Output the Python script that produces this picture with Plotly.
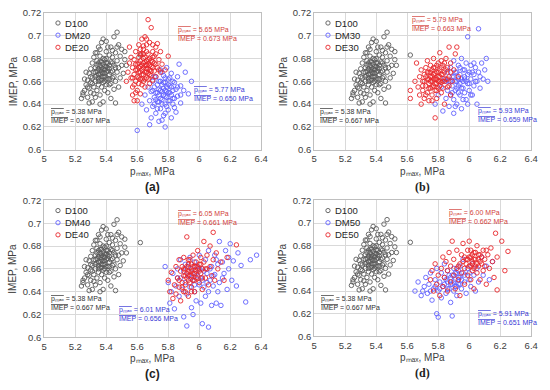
import plotly.graph_objects as go

W, H = 550, 390

# ---------------- data (p_max [MPa], IMEP [MPa]) ----------------
D100 = [(5.24,0.645),(5.25,0.650),(5.25,0.648),(5.26,0.652),(5.27,0.657),(5.26,0.662),(5.28,0.655),(5.28,0.661),
        (5.29,0.641),(5.29,0.667),(5.30,0.650),(5.30,0.659),(5.30,0.671),(5.31,0.642),(5.31,0.663),(5.31,0.676),
        (5.32,0.655),(5.32,0.668),(5.32,0.681),(5.33,0.646),(5.33,0.660),(5.33,0.672),(5.33,0.685),(5.34,0.652),
        (5.34,0.665),(5.34,0.669),(5.34,0.678),(5.35,0.657),(5.35,0.663),(5.35,0.671),(5.35,0.690),(5.36,0.648),
        (5.36,0.666),(5.36,0.674),(5.36,0.682),(5.37,0.655),(5.37,0.661),(5.37,0.668),(5.37,0.672),(5.37,0.694),
        (5.38,0.642),(5.38,0.659),(5.38,0.667),(5.38,0.675),(5.38,0.697),(5.39,0.652),(5.39,0.664),(5.39,0.670),
        (5.39,0.679),(5.40,0.657),(5.40,0.668),(5.40,0.673),(5.40,0.686),(5.40,0.695),(5.41,0.650),(5.41,0.662),
        (5.41,0.676),(5.42,0.666),(5.42,0.671),(5.42,0.683),(5.43,0.645),(5.43,0.658),(5.43,0.677),(5.43,0.690),
        (5.44,0.663),(5.44,0.669),(5.44,0.681),(5.45,0.653),(5.45,0.674),(5.45,0.699),(5.46,0.641),(5.46,0.660),
        (5.46,0.685),(5.47,0.668),(5.47,0.678),(5.47,0.703),(5.48,0.655),(5.48,0.672),(5.48,0.692),(5.49,0.663),
        (5.49,0.682),(5.50,0.674),(5.50,0.688),(5.51,0.667),(5.52,0.679),(5.52,0.686),(5.53,0.674),(5.62,0.683),
        (5.36,0.640),(5.27,0.668),(5.36,0.670),(5.38,0.664),(5.39,0.673),(5.37,0.677),(5.40,0.662),(5.35,0.666),
        (5.41,0.669),(5.38,0.671),(5.36,0.661),(5.42,0.674),
        (5.33,0.664),(5.34,0.674),(5.35,0.660),(5.36,0.677),(5.37,0.664),(5.38,0.680),(5.39,0.660),(5.39,0.667),
        (5.40,0.676),(5.41,0.672),(5.42,0.662),(5.43,0.668),(5.44,0.676),(5.37,0.670),(5.35,0.676),(5.33,0.668),
        (5.31,0.658),(5.29,0.654),(5.30,0.664),(5.32,0.649),(5.34,0.685),(5.36,0.688),(5.41,0.690),(5.44,0.687),
        (5.46,0.672),(5.47,0.690),(5.45,0.664),(5.40,0.680),(5.28,0.646),(5.42,0.657)]

DM20 = [(5.60,0.617),(5.63,0.640),(5.65,0.648),(5.66,0.635),(5.67,0.655),(5.68,0.643),(5.69,0.651),(5.69,0.628),
        (5.70,0.660),(5.70,0.638),(5.71,0.646),(5.71,0.655),(5.72,0.632),(5.72,0.650),(5.72,0.664),(5.73,0.642),
        (5.73,0.657),(5.74,0.625),(5.74,0.648),(5.74,0.653),(5.75,0.636),(5.75,0.660),(5.75,0.670),(5.76,0.644),
        (5.76,0.651),(5.76,0.657),(5.77,0.630),(5.77,0.648),(5.77,0.654),(5.77,0.665),(5.78,0.640),(5.78,0.652),
        (5.78,0.659),(5.78,0.620),(5.79,0.646),(5.79,0.655),(5.79,0.672),(5.80,0.635),(5.80,0.650),(5.80,0.662),
        (5.81,0.643),(5.81,0.656),(5.82,0.628),(5.82,0.648),(5.82,0.667),(5.83,0.652),(5.83,0.640),(5.84,0.659),
        (5.84,0.645),(5.85,0.633),(5.85,0.653),(5.86,0.664),(5.86,0.647),(5.87,0.675),(5.88,0.641),(5.88,0.656),
        (5.90,0.652),(5.91,0.668),(5.93,0.649),(5.95,0.660),(5.68,0.622),(5.71,0.664),(5.76,0.668),(5.79,0.638),
        (5.74,0.642),
        (5.73,0.650),(5.74,0.660),(5.75,0.645),(5.76,0.640),(5.77,0.659),(5.78,0.647),(5.78,0.663),(5.79,0.651),
        (5.80,0.657),(5.80,0.643),(5.81,0.650),(5.81,0.663),(5.82,0.655),(5.83,0.645),(5.83,0.660),(5.75,0.652),
        (5.72,0.644),(5.70,0.652),(5.84,0.637),(5.86,0.655),(5.78,0.632),(5.73,0.636),(5.88,0.648),(5.76,0.626),
        (5.71,0.640)]

DE20 = [(5.53,0.660),(5.54,0.668),(5.55,0.676),(5.55,0.690),(5.56,0.663),(5.56,0.681),(5.57,0.655),(5.57,0.672),
        (5.57,0.648),(5.58,0.666),(5.58,0.679),(5.58,0.643),(5.59,0.660),(5.59,0.670),(5.59,0.686),(5.60,0.652),
        (5.60,0.664),(5.60,0.675),(5.60,0.643),(5.61,0.668),(5.61,0.681),(5.61,0.658),(5.61,0.692),(5.62,0.662),
        (5.62,0.673),(5.62,0.678),(5.62,0.649),(5.63,0.666),(5.63,0.670),(5.63,0.684),(5.63,0.697),(5.64,0.660),
        (5.64,0.672),(5.64,0.676),(5.64,0.688),(5.65,0.655),(5.65,0.668),(5.65,0.674),(5.65,0.681),(5.65,0.699),
        (5.66,0.663),(5.66,0.671),(5.66,0.678),(5.66,0.692),(5.67,0.667),(5.67,0.675),(5.67,0.684),(5.67,0.714),
        (5.68,0.658),(5.68,0.670),(5.68,0.680),(5.68,0.694),(5.69,0.665),(5.69,0.673),(5.69,0.707),(5.70,0.661),
        (5.70,0.677),(5.70,0.686),(5.71,0.669),(5.71,0.682),(5.72,0.664),(5.72,0.675),(5.72,0.690),(5.73,0.672),
        (5.73,0.693),(5.74,0.679),(5.75,0.668),(5.75,0.686),(5.76,0.675),(5.78,0.670),(5.80,0.682),(5.63,0.657),
        (5.64,0.680),(5.62,0.684),(5.66,0.686),(5.61,0.676),(5.67,0.662),(5.59,0.675),
        (5.60,0.670),(5.61,0.672),(5.62,0.668),(5.63,0.674),(5.63,0.662),(5.64,0.666),(5.64,0.684),(5.65,0.677),
        (5.65,0.662),(5.66,0.668),(5.66,0.674),(5.67,0.671),(5.67,0.679),(5.68,0.674),(5.68,0.666),(5.69,0.678),
        (5.69,0.669),(5.70,0.672),(5.70,0.681),(5.71,0.676),(5.61,0.663),(5.62,0.688),(5.64,0.691),(5.66,0.697),
        (5.70,0.692),(5.58,0.657),(5.59,0.650),(5.72,0.684),(5.74,0.670),(5.57,0.663)]

DM30 = [(5.78,0.640),(5.80,0.648),(5.82,0.655),(5.83,0.634),(5.84,0.662),(5.85,0.645),(5.86,0.668),(5.86,0.652),
        (5.87,0.638),(5.87,0.660),(5.88,0.672),(5.88,0.648),(5.89,0.656),(5.89,0.664),(5.90,0.632),(5.90,0.644),
        (5.90,0.678),(5.91,0.660),(5.91,0.652),(5.92,0.668),(5.92,0.640),(5.93,0.656),(5.93,0.674),(5.93,0.662),
        (5.94,0.648),(5.94,0.666),(5.95,0.654),(5.95,0.680),(5.95,0.636),(5.96,0.660),(5.96,0.670),(5.97,0.650),
        (5.97,0.664),(5.98,0.676),(5.98,0.644),(5.99,0.658),(5.99,0.699),(6.00,0.668),(6.00,0.652),(6.01,0.662),
        (6.01,0.674),(6.02,0.648),(6.03,0.666),(6.03,0.656),(6.04,0.672),(6.05,0.660),(6.05,0.640),(6.06,0.706),
        (6.06,0.668),(6.07,0.654),(6.08,0.676),(6.09,0.662),(6.10,0.670),(6.11,0.680),(6.12,0.660),(5.92,0.660),
        (5.94,0.658),(5.89,0.650),(5.97,0.662),(5.85,0.660),
        (5.90,0.664),(5.91,0.668),(5.92,0.654),(5.93,0.650),(5.94,0.672),(5.95,0.662),(5.96,0.654),(5.97,0.670),
        (5.98,0.660),(5.99,0.666),(6.00,0.658),(6.01,0.648),(6.02,0.668),(6.03,0.676),(6.04,0.660),(5.88,0.660),
        (5.96,0.644),(5.99,0.640),(6.07,0.664),(5.91,0.638)]

DE30 = [(5.62,0.645),(5.62,0.652),(5.65,0.660),(5.66,0.676),(5.67,0.655),(5.68,0.648),(5.68,0.664),(5.69,0.640),
        (5.69,0.670),(5.70,0.652),(5.70,0.660),(5.71,0.666),(5.71,0.645),(5.72,0.672),(5.72,0.656),(5.73,0.662),
        (5.73,0.650),(5.73,0.678),(5.74,0.658),(5.74,0.668),(5.74,0.643),(5.75,0.664),(5.75,0.654),(5.75,0.674),
        (5.76,0.660),(5.76,0.648),(5.76,0.670),(5.77,0.666),(5.77,0.656),(5.77,0.680),(5.78,0.628),(5.78,0.662),
        (5.78,0.672),(5.78,0.652),(5.79,0.668),(5.79,0.658),(5.79,0.645),(5.80,0.664),(5.80,0.676),(5.80,0.654),
        (5.81,0.660),(5.81,0.670),(5.81,0.685),(5.82,0.666),(5.82,0.650),(5.83,0.674),(5.83,0.660),(5.84,0.668),
        (5.84,0.640),(5.85,0.662),(5.85,0.680),(5.86,0.655),(5.86,0.672),(5.87,0.690),(5.87,0.664),(5.88,0.648),
        (5.88,0.676),(5.89,0.660),(5.90,0.670),(5.91,0.684),(5.92,0.690),(5.93,0.664),(5.76,0.664),(5.79,0.662),
        (5.74,0.662),(5.82,0.659),
        (5.72,0.664),(5.73,0.668),(5.74,0.654),(5.75,0.660),(5.75,0.668),(5.76,0.655),(5.77,0.662),(5.77,0.672),
        (5.78,0.658),(5.78,0.667),(5.79,0.652),(5.79,0.674),(5.80,0.660),(5.80,0.668),(5.81,0.656),(5.81,0.664),
        (5.82,0.672),(5.83,0.654),(5.83,0.666),(5.84,0.660),(5.70,0.656),(5.71,0.660),(5.85,0.670),(5.86,0.662),
        (5.88,0.668),(5.72,0.648),(5.76,0.643),(5.82,0.678),(5.84,0.676),(5.87,0.656)]

DM40 = [(5.78,0.662),(5.80,0.648),(5.81,0.630),(5.82,0.640),(5.83,0.656),(5.84,0.625),(5.85,0.645),(5.86,0.660),
        (5.87,0.636),(5.88,0.652),(5.88,0.668),(5.89,0.642),(5.90,0.658),(5.90,0.618),(5.91,0.648),(5.91,0.664),
        (5.92,0.610),(5.92,0.638),(5.93,0.654),(5.94,0.644),(5.94,0.670),(5.95,0.626),(5.95,0.660),(5.96,0.650),
        (5.96,0.620),(5.97,0.666),(5.97,0.640),(5.98,0.656),(5.98,0.632),(5.99,0.662),(6.00,0.646),(6.00,0.672),
        (6.01,0.652),(6.01,0.630),(6.02,0.660),(6.02,0.612),(6.03,0.644),(6.04,0.668),(6.04,0.636),(6.05,0.656),
        (6.06,0.676),(6.06,0.640),(6.07,0.650),(6.08,0.662),(6.08,0.628),(6.09,0.645),(6.10,0.672),(6.10,0.655),
        (6.11,0.630),(6.12,0.664),(6.13,0.684),(6.13,0.648),(6.14,0.628),(6.15,0.666),(6.16,0.656),(6.17,0.676),
        (6.18,0.642),(6.19,0.660),(6.20,0.682),(6.21,0.650),(6.22,0.667),(6.24,0.645),(6.25,0.674),(6.27,0.663),
        (6.30,0.631),(6.33,0.668),(6.37,0.672),(6.06,0.609),
        (5.95,0.652),(5.97,0.646),(5.99,0.654),(6.00,0.660),(6.02,0.650),(6.03,0.658),(6.05,0.648),(6.07,0.660),
        (6.09,0.654),(6.11,0.668),(5.93,0.662),(6.12,0.640),(6.15,0.652),(6.19,0.670),(5.86,0.652)]

DE40 = [(5.80,0.650),(5.81,0.640),(5.82,0.657),(5.83,0.634),(5.84,0.646),(5.85,0.662),(5.85,0.638),(5.86,0.652),
        (5.87,0.644),(5.87,0.668),(5.88,0.658),(5.88,0.632),(5.89,0.648),(5.89,0.662),(5.90,0.654),(5.90,0.640),
        (5.90,0.670),(5.91,0.660),(5.91,0.646),(5.92,0.656),(5.92,0.688),(5.93,0.650),(5.93,0.664),(5.93,0.636),
        (5.94,0.658),(5.94,0.668),(5.95,0.644),(5.95,0.654),(5.96,0.662),(5.96,0.650),(5.96,0.672),(5.97,0.656),
        (5.97,0.640),(5.98,0.666),(5.98,0.652),(5.99,0.660),(5.99,0.676),(6.00,0.648),(6.00,0.664),(6.01,0.656),
        (6.01,0.670),(6.02,0.642),(6.02,0.660),(6.03,0.666),(6.03,0.684),(6.04,0.652),(6.05,0.672),(6.05,0.660),
        (6.06,0.646),(6.07,0.680),(6.07,0.662),(6.08,0.654),(6.09,0.692),(6.09,0.668),(6.10,0.650),(6.11,0.674),
        (6.12,0.660),(6.14,0.666),(6.16,0.650),(6.18,0.670),(6.24,0.681),(5.95,0.658),(5.92,0.652),(5.98,0.658),
        (5.94,0.648),
        (5.90,0.660),(5.91,0.654),(5.92,0.662),(5.93,0.658),(5.93,0.668),(5.94,0.654),(5.95,0.664),(5.96,0.656),
        (5.97,0.662),(5.97,0.650),(5.98,0.662),(5.99,0.652),(6.00,0.658),(6.01,0.664),(6.02,0.652),(5.89,0.644),
        (5.91,0.640),(5.87,0.650),(5.95,0.640),(6.04,0.660)]

DM50 = [(5.65,0.640),(5.67,0.648),(5.69,0.636),(5.71,0.644),(5.72,0.652),(5.73,0.638),(5.74,0.646),(5.75,0.656),
        (5.76,0.632),(5.77,0.642),(5.78,0.650),(5.79,0.620),(5.79,0.660),(5.80,0.617),(5.80,0.640),(5.81,0.648),
        (5.82,0.656),(5.82,0.634),(5.83,0.644),(5.84,0.652),(5.84,0.664),(5.85,0.638),(5.86,0.648),(5.86,0.658),
        (5.87,0.642),(5.88,0.652),(5.88,0.630),(5.89,0.618),(5.89,0.646),(5.90,0.660),(5.90,0.640),(5.91,0.650),
        (5.92,0.656),(5.92,0.636),(5.93,0.646),(5.94,0.662),(5.94,0.652),(5.95,0.642),(5.96,0.656),(5.96,0.668),
        (5.97,0.648),(5.98,0.638),(5.99,0.660),(6.00,0.650),(6.01,0.644),(6.02,0.664),(6.03,0.654),(6.04,0.640),
        (6.05,0.660),(6.06,0.648),(6.08,0.670),(6.09,0.654),(6.11,0.662),(6.13,0.650),(6.15,0.666),(5.87,0.654),
        (5.91,0.644),(5.85,0.650),(5.95,0.650),(5.93,0.658),
        (5.84,0.646),(5.86,0.642),(5.88,0.646),(5.89,0.654),(5.90,0.648),(5.91,0.656),(5.92,0.644),(5.93,0.652),
        (5.94,0.646),(5.97,0.654),(5.81,0.642),(5.78,0.644),(5.75,0.640),(5.70,0.640),(6.00,0.656)]

DE50 = [(5.75,0.650),(5.76,0.658),(5.77,0.640),(5.78,0.664),(5.79,0.646),(5.80,0.654),(5.81,0.636),(5.82,0.660),
        (5.83,0.670),(5.83,0.644),(5.84,0.652),(5.85,0.666),(5.86,0.640),(5.86,0.658),(5.87,0.674),(5.88,0.648),
        (5.88,0.662),(5.89,0.684),(5.90,0.654),(5.90,0.668),(5.91,0.642),(5.92,0.660),(5.92,0.676),(5.93,0.650),
        (5.94,0.664),(5.94,0.636),(5.95,0.672),(5.95,0.656),(5.96,0.682),(5.97,0.660),(5.97,0.646),(5.98,0.668),
        (5.99,0.654),(5.99,0.676),(6.00,0.662),(6.00,0.684),(6.01,0.650),(6.01,0.670),(6.02,0.658),(6.02,0.666),
        (6.03,0.674),(6.03,0.642),(6.04,0.662),(6.05,0.680),(6.05,0.656),(6.06,0.668),(6.07,0.672),(6.07,0.650),
        (6.08,0.664),(6.09,0.676),(6.09,0.658),(6.10,0.668),(6.11,0.646),(6.12,0.672),(6.13,0.660),(6.14,0.678),
        (6.15,0.666),(6.16,0.652),(6.17,0.691),(6.18,0.641),(6.18,0.670),(6.21,0.684),(6.23,0.658),(6.25,0.675),
        (6.04,0.668),(6.06,0.662),(6.02,0.672),
        (5.98,0.664),(5.99,0.668),(6.00,0.670),(6.01,0.662),(6.02,0.664),(6.03,0.668),(6.04,0.674),(6.05,0.664),
        (6.06,0.672),(6.07,0.666),(6.08,0.670),(6.03,0.660),(6.01,0.676),(5.97,0.670),(6.10,0.662),(5.93,0.662),
        (5.96,0.666),(6.11,0.676)]

panel_labels = ["(a)", "(b)", "(c)", "(d)"]
dm_names = ["DM20", "DM30", "DM40", "DM50"]
de_names = ["DE20", "DE30", "DE40", "DE50"]
dm_data = [DM20, DM30, DM40, DM50]
de_data = [DE20, DE30, DE40, DE50]
# mean values shown in boxes: (p_max, IMEP)
d100_mean = ("5.38", "0.667")
dm_means = [("5.77", "0.650"), ("5.93", "0.659"), ("6.01", "0.656"), ("5.91", "0.651")]
de_means = [("5.65", "0.673"), ("5.79", "0.663"), ("6.05", "0.661"), ("6.00", "0.662")]

x_ticks = [5, 5.2, 5.4, 5.6, 5.8, 6, 6.2, 6.4]
y_ticks = [0.6, 0.62, 0.64, 0.66, 0.68, 0.7, 0.72]

# ---------------- styling ----------------
C_D = "#5a5a5a"
C_M = "#6060ff"
C_E = "#e8262a"
C_TXT_M = "#3a3ad6"
C_TXT_E = "#d2403a"
FONT = "Arial, Liberation Sans, sans-serif"
PMAX = "p\u2098\u2090\u2093"   # p with subscript "max"

def px(x):
    return x / W

def py(y):
    return 1 - y / H

# plot areas in pixels: (left, right, top, bottom)
areas = [(42, 263, 7, 148), (317, 538, 7, 148), (42, 263, 200, 341), (317, 538, 200, 340)]

fig = go.Figure()
layout = dict(width=W, height=H, margin=dict(l=0, r=0, t=0, b=0),
              paper_bgcolor="white", plot_bgcolor="white", showlegend=False,
              font=dict(family=FONT, size=9.5, color="#404040"))
annotations = []
shapes = []

def mk(pts, name, color, i):
    sfx = "" if i == 0 else str(i + 1)
    return go.Scatter(x=[p[0] for p in pts], y=[p[1] for p in pts], mode="markers", name=name,
                      xaxis="x" + sfx, yaxis="y" + sfx,
                      marker=dict(symbol="circle-open", size=4.5, color=color, line=dict(width=0.9, color=color)))

OL = "<span style='text-decoration:overline'>"

def mean_text(p, imep):
    return (OL + PMAX + "</span> = " + p + " MPa<br>" + OL + "IMEP</span> = " + imep + " MPa")

black_pos = [(47, 113), (321, 113), (47, 306), (322, 306)]
red_pos = [(176, 29), (415, 19), (176, 218), (452, 217)]
blue_pos = [(192, 91), (482, 112), (116, 317), (482, 321)]

for i in range(4):
    l, r, t, b = areas[i]
    sfx = "" if i == 0 else str(i + 1)
    names = ["D100", dm_names[i], de_names[i]]
    colors = [C_D, C_M, C_E]
    fig.add_trace(mk(D100, names[0], C_D, i))
    fig.add_trace(mk(dm_data[i], names[1], C_M, i))
    fig.add_trace(mk(de_data[i], names[2], C_E, i))
    axcommon = dict(showgrid=True, gridcolor="#d9d9d9", gridwidth=1, zeroline=False,
                    showline=True, linecolor="#bfbfbf", linewidth=1, mirror=True,
                    ticks="", tickfont=dict(size=9.5, color="#404040"))
    layout["xaxis" + sfx] = dict(axcommon, domain=[px(l), px(r)], range=[5, 6.4], tickvals=x_ticks,
                                 anchor="y" + sfx)
    layout["yaxis" + sfx] = dict(axcommon, domain=[py(b), py(t)], range=[0.6, 0.72], tickvals=y_ticks,
                                 anchor="x" + sfx)
    # legend (drawn as layout items)
    for k in range(3):
        yy = t + 10.5 + 12.5 * k
        cx = l + 14
        rr = 2.2
        shapes.append(dict(type="circle", xref="paper", yref="paper",
                           x0=px(cx - rr), x1=px(cx + rr), y0=py(yy + rr), y1=py(yy - rr),
                           line=dict(color=colors[k], width=0.9)))
        annotations.append(dict(x=px(l + 19), y=py(yy), xref="paper", yref="paper", showarrow=False,
                                text=names[k], xanchor="left", yanchor="middle",
                                font=dict(size=9.5, color="#262626")))
    cx = (l + r) / 2
    annotations.append(dict(x=px(cx), y=py(b + 22), xref="paper", yref="paper", showarrow=False,
                            text=PMAX + ", MPa", font=dict(size=10, color="#404040"),
                            xanchor="center", yanchor="middle"))
    annotations.append(dict(x=px(l - 32), y=py((t + b) / 2), xref="paper", yref="paper", showarrow=False,
                            text="IMEP, MPa", textangle=-90, font=dict(size=10, color="#404040"),
                            xanchor="center", yanchor="middle"))
    lab_font = "Arial, Liberation Sans, sans-serif" if i in (0, 2) else "Times New Roman, Liberation Serif, serif"
    annotations.append(dict(x=px(cx), y=py(b + 38), xref="paper", yref="paper", showarrow=False,
                            text="<b>" + panel_labels[i] + "</b>", font=dict(size=12, color="#222222", family=lab_font),
                            xanchor="center", yanchor="middle"))
    for (pos, mean, col) in [(black_pos[i], d100_mean, "#303030"), (red_pos[i], de_means[i], C_TXT_E),
                             (blue_pos[i], dm_means[i], C_TXT_M)]:
        annotations.append(dict(x=px(pos[0]), y=py(pos[1]), xref="paper", yref="paper", showarrow=False,
                                text=mean_text(*mean), align="left", xanchor="left", yanchor="middle",
                                font=dict(size=7, color=col)))

layout["annotations"] = annotations
layout["shapes"] = shapes
fig.update_layout(**layout)
fig.write_html("out.html", config={"displayModeBar": False},
               post_script="document.body.style.margin='0';document.body.style.padding='0';"
                           "document.body.style.overflow='hidden';")
